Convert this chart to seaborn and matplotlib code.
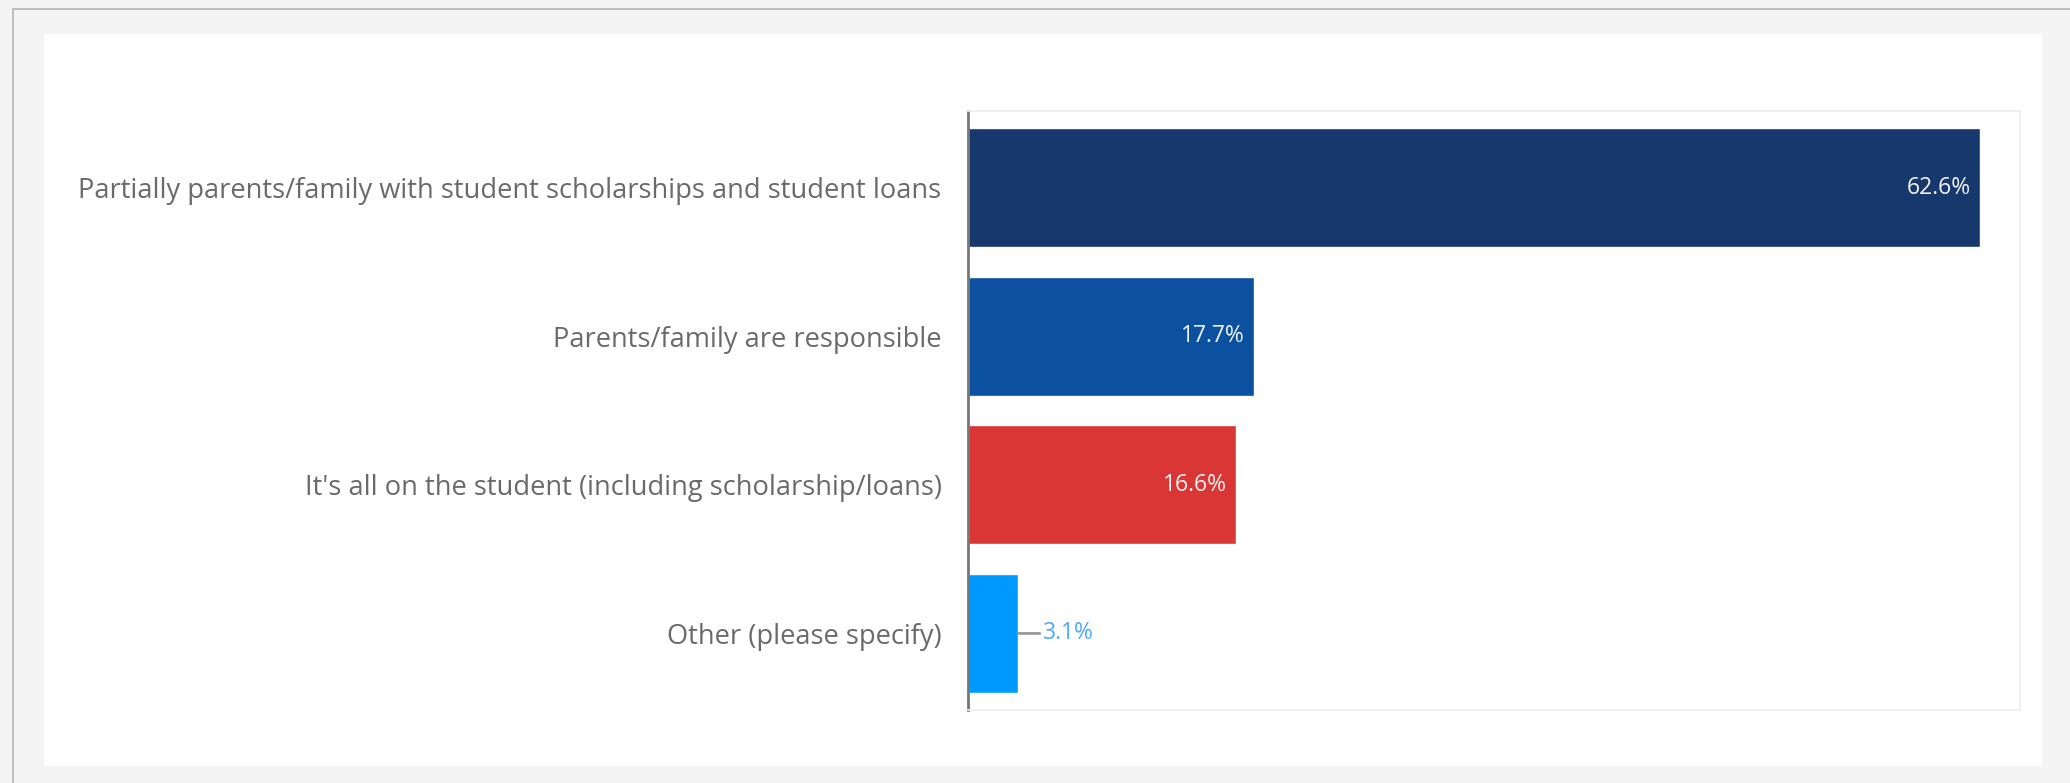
import matplotlib
matplotlib.use("Agg")
import matplotlib.pyplot as plt
from matplotlib.patches import Rectangle
from matplotlib.lines import Line2D
import seaborn as sns
import pandas as pd

# Survey answers: who pays for college
categories = [
    "Partially parents/family with student scholarships and student loans",
    "Parents/family are responsible",
    "It's all on the student (including scholarship/loans)",
    "Other (please specify)",
]
shares = [62.6, 17.7, 16.6, 3.1]
value_labels = ["62.6%", "17.7%", "16.6%", "3.1%"]
bar_colors = ["#17386c", "#0b519f", "#db3636", "#0099ff"]

W, H, DPI = 2070, 783, 100

sns.set_theme(style="white")
plt.rcParams["font.family"] = ["Open Sans", "DejaVu Sans"]

fig = plt.figure(figsize=(W / DPI, H / DPI), dpi=DPI, facecolor="#f4f4f4")

# white card behind the chart
fig.patches.append(Rectangle((44 / W, 1 - 766 / H), (2042 - 44) / W, (766 - 34) / H,
                             transform=fig.transFigure, facecolor="white",
                             edgecolor="none", zorder=-10))
# frame lines of the surrounding panel
fig.lines.append(Line2D([13 / W, 1], [1 - 9 / H, 1 - 9 / H], transform=fig.transFigure,
                        color="#b5b5b5", lw=1.2, zorder=-10))
fig.lines.append(Line2D([13 / W, 13 / W], [0, 1 - 9 / H], transform=fig.transFigure,
                        color="#b5b5b5", lw=1.2, zorder=-10))

ax = fig.add_axes([968 / W, 1 - 710 / H, (2020 - 968) / W, (710 - 111) / H])
ax.set_zorder(5)
ax.set_facecolor("white")

df = pd.DataFrame({"category": categories, "share": shares})
sns.barplot(data=df, x="share", y="category", hue="category",
            palette=dict(zip(categories, bar_colors)), orient="h",
            width=0.8, saturation=1, legend=False, ax=ax)

ax.set_xlim(0, 65.1)
ax.set_ylim(3.515, -0.515)
ax.set_xlabel("")
ax.set_ylabel("")
ax.set_xticks([])
ax.tick_params(axis="y", length=0, pad=19, labelsize=19.6, labelcolor="#6a6a6a")

for name, sp in ax.spines.items():
    sp.set_visible(True)
    sp.set_color("#eeeeee")
    sp.set_linewidth(1.2)
ax.spines["left"].set_color("#777777")
ax.spines["left"].set_linewidth(2)

for i, (v, txt) in enumerate(zip(shares, value_labels)):
    if v > 10:
        ax.annotate(txt, xy=(v, i), xytext=(-6.5, 0), textcoords="offset points",
                    ha="right", va="center", color="#f2f2f2", fontsize=16.5)
    else:
        ax.annotate(txt, xy=(v, i), xytext=(18, 0), textcoords="offset points",
                    ha="left", va="center", color="#4fa8ff", fontsize=16.5,
                    arrowprops=dict(arrowstyle="-", color="#999999", lw=2,
                                    shrinkA=0, shrinkB=0))

fig.savefig("out.png", dpi=DPI, facecolor=fig.get_facecolor())
